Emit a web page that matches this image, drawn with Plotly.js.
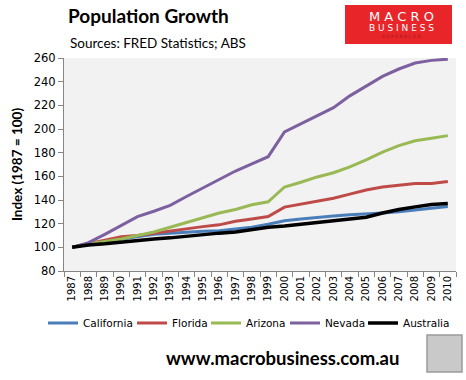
<!DOCTYPE html>
<html>
<head>
<meta charset="utf-8">
<script src="https://cdn.plot.ly/plotly-3.0.1.min.js"></script>
<style>
  html, body { margin: 0; padding: 0; background: #ffffff; }
  #chart { width: 466px; height: 380px; }
</style>
</head>
<body>
<div id="chart"></div>
<script>
const years = ["1987","1988","1989","1990","1991","1992","1993","1994","1995","1996","1997","1998",
               "1999","2000","2001","2002","2003","2004","2005","2006","2007","2008","2009","2010"];
const california = [100,103,105,107,109,111,112,113,113.5,114,115.5,117,119.5,122.5,124,125.5,126.5,127.5,128,129,130,131.5,133,134.5];
const florida    = [100,103,106,109,110,112,114,116,117.5,119,122,124,126,134,136.5,139,141.5,145,148.5,151,152.5,154,154,155.7];
const arizona    = [100,103,105,107,110,113,117,121,125,129,132,136,138.5,151,155,159.5,163,168,174,180.5,186,190,192.2,194.4];
const nevada     = [100,104,111,118.5,126,130.5,135.5,143,150,157,164.5,170.5,176.6,197.5,204.5,211.5,218,228,236.5,244.5,250.7,255.8,258,259];
const australia  = [100,102,103,104.5,106,107,108,109.5,110.5,112,113,115,117,118,119.5,121,122.7,123.5,125.5,129,132,134.2,136.2,137.1];

const seriesNames  = ["California","Florida","Arizona","Nevada","Australia"];
const seriesValues = [california, florida, arizona, nevada, australia];
const seriesColors = ["#4a7ebb","#be4b48","#98b954","#7d60a0","#000000"];
const legendIds    = ["legend","legend2","legend3","legend4","legend5"];

const traces = seriesNames.map((name, i) => ({
  type: "scatter",
  mode: "lines",
  name: name,
  x: years,
  y: seriesValues[i],
  line: { color: seriesColors[i], width: i === 4 ? 3.5 : 3 },
  legend: legendIds[i],
  hoverinfo: "skip"
}));

// paper coordinate helpers (plot area: x 64..456 px, y 58..271 px)
const PX = (px) => (px - 64) / 392;
const PY = (py) => (271 - py) / 213;

// legend line start positions (px) in the reference
const legendStarts = [48, 137, 211, 290, 368];

const layout = {
  width: 466, height: 380,
  margin: { l: 64, r: 10, t: 58, b: 109 },
  paper_bgcolor: "#ffffff",
  plot_bgcolor: "#f2f2f2",
  showlegend: true,
  font: { family: "DejaVu Sans", size: 11, color: "#000000" },
  title: {
    text: "<b>Population Growth</b>",
    font: { family: "Lato", size: 19, color: "#000000" },
    x: 68 / 466, xanchor: "left", xref: "container",
    y: 1 - 10 / 380, yanchor: "top", yref: "container"
  },
  xaxis: {
    type: "category",
    range: [-0.5, 23.5],
    showgrid: false, zeroline: false,
    showline: true, linecolor: "#868686", linewidth: 1,
    ticks: "outside", ticklen: 5, tickcolor: "#868686",
    tickson: "boundaries",
    tickangle: -90,
    tickfont: { family: "DejaVu Sans", size: 10, color: "#000000" },
    fixedrange: true
  },
  yaxis: {
    range: [80, 260],
    dtick: 20, tick0: 80,
    showgrid: false, zeroline: false,
    showline: true, linecolor: "#868686", linewidth: 1,
    ticks: "outside", ticklen: 5, tickcolor: "#868686",
    tickfont: { family: "DejaVu Sans", size: 11.5, color: "#000000" },
    title: { text: "<b>Index (1987 = 100)</b>", font: { family: "Lato", size: 13.5, color: "#000000" }, standoff: 8 },
    fixedrange: true
  },
  shapes: [
    { type: "rect", xref: "paper", yref: "paper",
      x0: PX(345), x1: PX(452), y0: PY(44), y1: PY(5),
      fillcolor: "#e8262a", line: { width: 0 }, layer: "above" },
    { type: "rect", xref: "paper", yref: "paper",
      x0: PX(427), x1: PX(462), y0: PY(372), y1: PY(335),
      fillcolor: "#c9c9c9", line: { color: "#9a9a9a", width: 1.5 }, layer: "above" }
  ],
  annotations: [
    { text: "Sources: FRED Statistics; ABS", xref: "paper", yref: "paper",
      x: PX(68), xanchor: "left", y: PY(43), yanchor: "middle", showarrow: false,
      font: { family: "Lato", size: 13.5, color: "#000000" } },
    { text: "M A C R O", xref: "paper", yref: "paper",
      x: PX(401), xanchor: "center", y: PY(16), yanchor: "middle", showarrow: false,
      font: { family: "DejaVu Sans", size: 13, color: "#ffffff" } },
    { text: "B U S I N E S S", xref: "paper", yref: "paper",
      x: PX(401), xanchor: "center", y: PY(28), yanchor: "middle", showarrow: false,
      font: { family: "DejaVu Sans", size: 9, color: "#ffffff" } },
    { text: "S U P E R B L O G", xref: "paper", yref: "paper",
      x: PX(401), xanchor: "center", y: PY(36), yanchor: "middle", showarrow: false,
      font: { family: "DejaVu Sans", size: 4.5, color: "#a01515" } },
    { text: "<b>www.macrobusiness.com.au</b>", xref: "paper", yref: "paper",
      x: PX(282), xanchor: "center", y: PY(358), yanchor: "middle", showarrow: false,
      font: { family: "Lato", size: 18.5, color: "#000000" } }
  ]
};

legendIds.forEach((id, i) => {
  layout[id] = {
    orientation: "h",
    x: PX(legendStarts[i] - 5), xanchor: "left",
    y: PY(323), yanchor: "middle",
    font: { family: "DejaVu Sans", size: 10.5, color: "#000000" },
    itemwidth: 30,
    bgcolor: "rgba(0,0,0,0)",
    borderwidth: 0
  };
});

Plotly.newPlot("chart", traces, layout, { displayModeBar: false, staticPlot: true });
</script>
</body>
</html>
